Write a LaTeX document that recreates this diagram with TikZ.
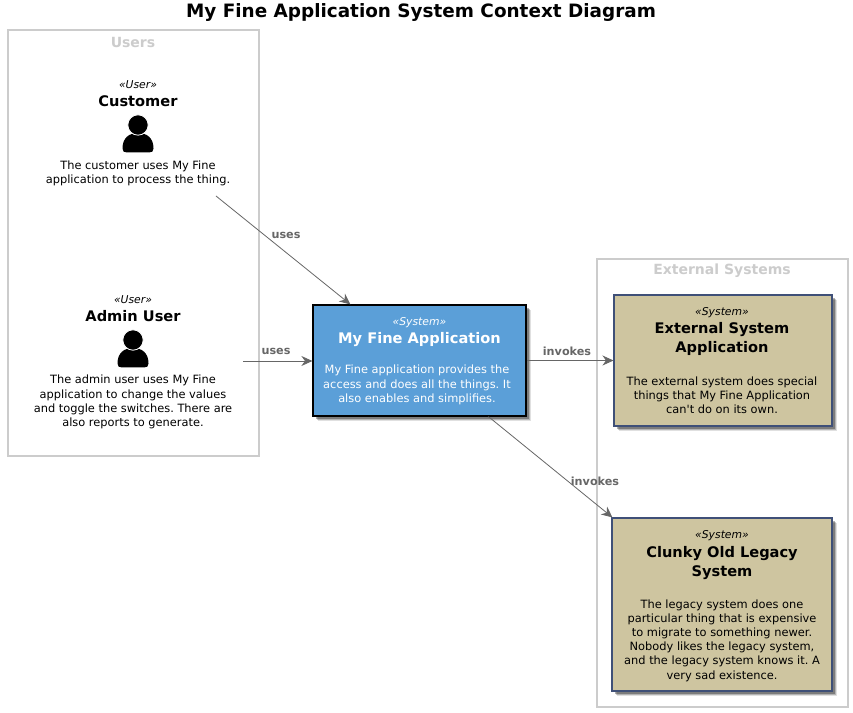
\documentclass[tikz,border=0pt]{standalone}
\usepackage{fontspec}
\setmainfont{DejaVu Sans}
\usetikzlibrary{shadows,arrows.meta}
\definecolor{appblue}{HTML}{5B9FD8}
\definecolor{legacytan}{HTML}{CEC5A0}
\definecolor{legacyedge}{HTML}{3F5078}
\definecolor{framegray}{HTML}{CCCCCC}
\definecolor{linkgray}{HTML}{666666}
\tikzset{
	frame/.style={draw=framegray, line width=1.1pt, fill=white},
	framelabel/.style={text=framegray, font=\fontsize{14}{17}\selectfont\bfseries},
	boxshadow/.style={
		drop shadow={shadow xshift=5pt, shadow yshift=-5pt, fill=black, opacity=0.12},
		drop shadow={shadow xshift=4pt, shadow yshift=-4pt, fill=black, opacity=0.2},
		drop shadow={shadow xshift=3pt, shadow yshift=-3pt, fill=black, opacity=0.3}},
	appbox/.style={draw=black, line width=1.2pt, fill=appblue, boxshadow, minimum width=213pt, minimum height=111pt, inner sep=0pt},
	legacybox/.style={draw=legacyedge, line width=1.1pt, fill=legacytan, boxshadow, inner sep=0pt},
	stereo/.style={font=\fontsize{10.8}{13}\selectfont\itshape},
	heading/.style={align=center, font=\fontsize{14.6}{19}\selectfont\bfseries},
	detail/.style={align=center, font=\frenchspacing\fontsize{11.4}{14.2}\selectfont},
	link/.style={draw=linkgray, line width=0.8pt, -{Stealth[length=11pt,width=10pt]}},
	linklabel/.style={text=linkgray, font=\fontsize{11.2}{14}\selectfont\bfseries},
	actorspot/.style={inner sep=0pt, outer sep=0pt},
	personicon/.pic={
		\fill (-15.5,-23.5) .. controls (-15.5,-13) and (-9,-8) .. (0,-8) .. controls (9,-8) and (15.5,-13) .. (15.5,-23.5) .. controls (15.5,-26.5) and (14,-27.5) .. (11,-27.5) -- (-11,-27.5) .. controls (-14,-27.5) and (-15.5,-26.5) .. (-15.5,-23.5) -- cycle;
		\draw[fill=black, draw=white, line width=0.8pt] (0,0) circle (10.2);
	}
}
\begin{document}
\begin{tikzpicture}[x=1pt, y=1pt]
			%%%%% START %%%%%
			\useasboundingbox (0, 0) rectangle (853, 712);
			
			\node[font=\fontsize{18.4}{22}\selectfont\bfseries] (title) at (421, 699.5) {My Fine Application System Context Diagram};
			
			% frames
			\draw[frame] (8, 682) rectangle (259, 256);
			\node[framelabel] (userslabel) at (133, 669.5) {Users};
			\draw[frame] (597, 453) rectangle (848, 5);
			\node[framelabel] (externallabel) at (722, 441) {External Systems};
			
			% customer
			\node[actorspot, minimum width=156pt, minimum height=130pt] (customer) at (138, 581) {};
			\node[stereo] (customerstereo) at (138, 627) {«User»};
			\node[heading] (customername) at (138, 611) {Customer};
			\pic at (138, 587) {personicon};
			\node[detail] (customertext) at (138, 539) {The customer uses My Fine\\application to process the thing.};
			
			% admin user
			\node[actorspot, minimum width=220pt, minimum height=2pt] (admin) at (133, 351) {};
			\node[stereo] (adminstereo) at (133, 412) {«User»};
			\node[heading] (adminname) at (133, 396) {Admin User};
			\pic at (133, 372) {personicon};
			\node[detail] (admintext) at (133, 310) {The admin user uses My Fine\\application to change the values\\and toggle the switches. There are\\also reports to generate.};
			
			% my fine application
			\node[appbox] (app) at (419.5, 351.5) {};
			\node[stereo, text=white] (appstereo) at (419.5, 389) {«System»};
			\node[heading, text=white] (appname) at (419.5, 372) {My Fine Application};
			\node[detail, text=white] (apptext) at (417, 327) {My Fine application provides the\\access and does all the things. It\\also enables and simplifies.};
			
			% external system
			\node[legacybox, minimum width=218pt, minimum height=131pt] (external) at (723, 351.5) {};
			\node[stereo] (externalstereo) at (722, 399) {«System»};
			\node[heading] (externalname) at (722, 373) {External System\\Application};
			\node[detail] (externaltext) at (722, 316.5) {The external system does special\\things that My Fine Application\\can\textquotesingle t do on its own.};
			
			% legacy system
			\node[legacybox, minimum width=220pt, minimum height=173pt] (legacy) at (722, 107.5) {};
			\node[stereo] (legacystereo) at (722, 176) {«System»};
			\node[heading] (legacyname) at (722, 149) {Clunky Old Legacy\\System};
			\node[detail] (legacytext) at (722, 71.5) {The legacy system does one\\particular thing that is expensive\\to migrate to something newer.\\Nobody likes the legacy system,\\and the legacy system knows it. A\\very sad existence.};
			
			% connectors
			\draw[link] (customer.south east) -- ([xshift=38pt]app.north west);
			\draw[link] (admin.east) -- (app.west |- admin.east);
			\draw[link] (app.east |- external.west) -- (external.west);
			\draw[link] ([xshift=176pt]app.south west) -- ([xshift=1pt]legacy.north west);
			
			\node[linklabel] (useslabela) at (286, 477) {uses};
			\node[linklabel] (useslabelb) at (276, 361) {uses};
			\node[linklabel] (invokeslabela) at (567, 361) {invokes};
			\node[linklabel] (invokeslabelb) at (595, 231) {invokes};
			
			%%%%% END %%%%%
		\end{tikzpicture}
\end{document}
